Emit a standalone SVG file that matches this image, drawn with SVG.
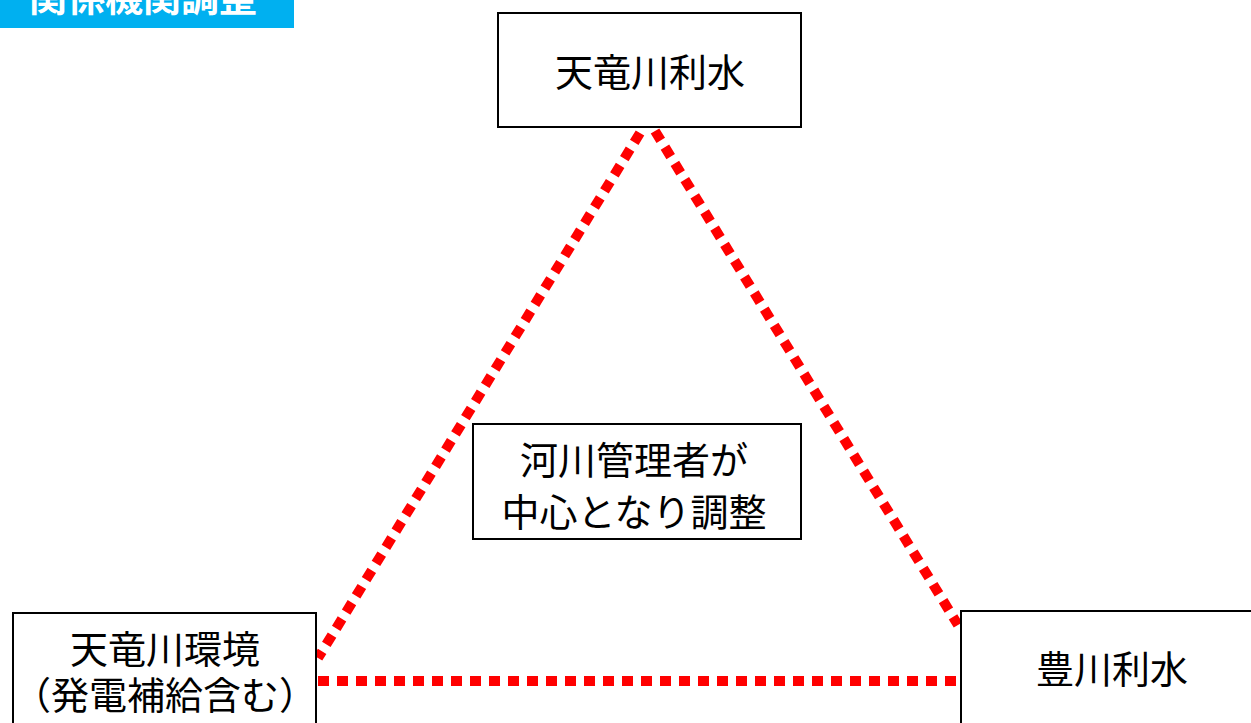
<svg xmlns="http://www.w3.org/2000/svg" width="1251" height="723" viewBox="0 0 1251 723">
<style>
.box{fill:#fff;stroke:#000;stroke-width:2}
.t{font-family:"Noto Sans CJK JP","Noto Sans",sans-serif;font-size:38px;fill:#000;text-anchor:middle}
.dot{fill:none;stroke:#ff0000;stroke-width:10;stroke-dasharray:11 8}
</style>
<rect width="1251" height="723" fill="#fff"/>
<g id="header">
<rect x="0" y="-2" width="294" height="30" fill="#00b0f0"/>
<text x="143" y="11" style="font-family:'Noto Sans CJK JP',sans-serif;font-size:38px;font-weight:bold;fill:#fff;text-anchor:middle">関係機関調整</text>
</g>
<g id="connectors">
<line class="dot" x1="640" y1="133" x2="318" y2="658"/>
<line class="dot" x1="655" y1="131" x2="958" y2="625"/>
<line class="dot" x1="318" y1="681" x2="960" y2="681"/>
</g>
<g id="tenryu-risui">
<rect class="box" x="498" y="13" width="303" height="114"/>
<text class="t" x="650" y="86">天竜川利水</text>
</g>
<g id="center">
<rect class="box" x="473" y="424" width="328" height="115"/>
<text class="t" x="634" y="474">河川管理者が</text>
<text class="t" x="634" y="526">中心となり調整</text>
</g>
<g id="tenryu-kankyo">
<rect class="box" x="13" y="613" width="303" height="130"/>
<text class="t" x="165" y="663">天竜川環境</text>
<text class="t" x="165" y="709">（発電補給含む）</text>
</g>
<g id="toyokawa-risui">
<rect class="box" x="961" y="611" width="320" height="130"/>
<text class="t" x="1112" y="683">豊川利水</text>
</g>
</svg>
